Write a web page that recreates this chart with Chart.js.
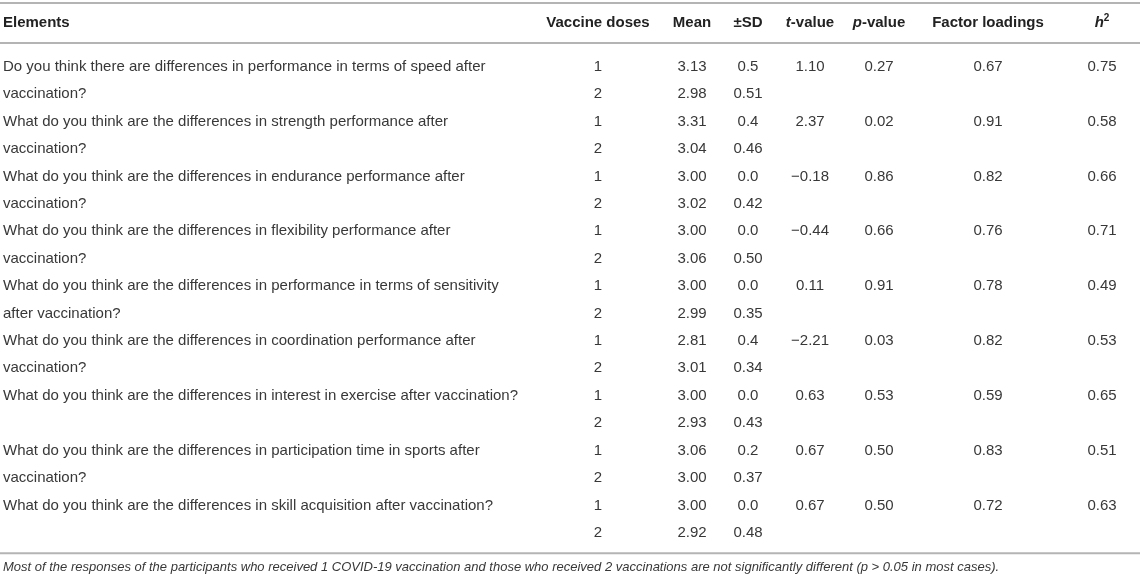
<!DOCTYPE html>
<html>
<head>
<meta charset="utf-8">
<script src="https://cdn.jsdelivr.net/npm/chart.js@4.4.1/dist/chart.umd.min.js"></script>
<style>
  html, body { margin: 0; padding: 0; background: #fff; }
  #wrap { width: 1143px; height: 579px; }
</style>
</head>
<body>
<div id="wrap"><canvas id="myChart"></canvas></div>
<script>
// table content
const questions = [
  "Do you think there are differences in performance in terms of speed after\nvaccination?",
  "What do you think are the differences in strength performance after\nvaccination?",
  "What do you think are the differences in endurance performance after\nvaccination?",
  "What do you think are the differences in flexibility performance after\nvaccination?",
  "What do you think are the differences in performance in terms of sensitivity\nafter vaccination?",
  "What do you think are the differences in coordination performance after\nvaccination?",
  "What do you think are the differences in interest in exercise after vaccination?",
  "What do you think are the differences in participation time in sports after\nvaccination?",
  "What do you think are the differences in skill acquisition after vaccination?"
];
const doseLabels = ["1", "2"];
const mean1 = [3.13, 3.31, 3.00, 3.00, 3.00, 2.81, 3.00, 3.06, 3.00];
const mean2 = [2.98, 3.04, 3.02, 3.06, 2.99, 3.01, 2.93, 3.00, 2.92];
const sd1 = [0.5, 0.4, 0.0, 0.0, 0.0, 0.4, 0.0, 0.2, 0.0];
const sd2 = [0.51, 0.46, 0.42, 0.50, 0.35, 0.34, 0.43, 0.37, 0.48];
const tValues = [1.10, 2.37, -0.18, -0.44, 0.11, -2.21, 0.63, 0.67, 0.67];
const pValues = [0.27, 0.02, 0.86, 0.66, 0.91, 0.03, 0.53, 0.50, 0.50];
const loadings = [0.67, 0.91, 0.82, 0.76, 0.78, 0.82, 0.59, 0.83, 0.72];
const h2Values = [0.75, 0.58, 0.66, 0.71, 0.49, 0.53, 0.65, 0.51, 0.63];

// header cells, as runs of [text, style]
const headers = [
  [["Elements"]],
  [["Vaccine doses"]],
  [["Mean"]],
  [["±SD"]],
  [["t", "i"], ["-value"]],
  [["p", "i"], ["-value"]],
  [["Factor loadings"]],
  [["h", "i"], ["2", "sup"]]
];
const footnote = "Most of the responses of the participants who received 1 COVID-19 vaccination and those who received 2 vaccinations are not significantly different (p > 0.05 in most cases).";

// layout (column centres on the x scale, rules in row units)
const colX = [3, 598, 692, 748, 810, 879, 988, 1102];
const nRows = questions.length * 2;
const headerRow = -1.59;
const rules = [-2.32, -0.86, nRows - 0.26];
const footRow = nRows + 0.25;

const FONT = '"Liberation Sans", Arial, Helvetica, sans-serif';
const TEXT = '#383838';

const fmt = (v, d) => (v < 0 ? '\u2212' : '') + Math.abs(v).toFixed(d);

function textSet(label, col, texts, rows, align) {
  return {
    label,
    texts,
    align: align || 'center',
    data: texts.map((t, i) => ({ x: colX[col], y: rows[i] })),
    pointRadius: 0,
    showLine: false
  };
}

// question lines: line j of question i sits on row 2i + j
const qTexts = [], qRows = [];
questions.forEach((q, i) => {
  q.split('\n').forEach((line, j) => { qTexts.push(line); qRows.push(2 * i + j); });
});

const pairRows = [], pairDose = [], pairMean = [], pairSd = [];
questions.forEach((q, i) => {
  pairRows.push(2 * i, 2 * i + 1);
  pairDose.push(doseLabels[0], doseLabels[1]);
  pairMean.push(fmt(mean1[i], 2), fmt(mean2[i], 2));
  pairSd.push(fmt(sd1[i], 1), fmt(sd2[i], 2));
});
const firstRows = questions.map((q, i) => 2 * i);

const datasets = [
  textSet('Elements', 0, qTexts, qRows, 'left'),
  textSet('Vaccine doses', 1, pairDose, pairRows),
  textSet('Mean', 2, pairMean, pairRows),
  textSet('SD', 3, pairSd, pairRows),
  textSet('t-value', 4, tValues.map(v => fmt(v, 2)), firstRows),
  textSet('p-value', 5, pValues.map(v => fmt(v, 2)), firstRows),
  textSet('Factor loadings', 6, loadings.map(v => fmt(v, 2)), firstRows),
  textSet('h2', 7, h2Values.map(v => fmt(v, 2)), firstRows)
];

const tablePlugin = {
  id: 'tableText',
  afterDatasetsDraw(chart) {
    const c = chart.ctx;
    const xs = chart.scales.x, ys = chart.scales.y;
    c.save();

    // rules
    c.strokeStyle = '#b4b4b4';
    c.lineWidth = 2;
    rules.forEach(r => {
      const y = ys.getPixelForValue(r);
      c.beginPath();
      c.moveTo(xs.getPixelForValue(0), y);
      c.lineTo(xs.getPixelForValue(1140), y);
      c.stroke();
    });

    // body cells
    c.textBaseline = 'middle';
    c.fillStyle = TEXT;
    c.font = '15px ' + FONT;
    chart.data.datasets.forEach((ds, di) => {
      const meta = chart.getDatasetMeta(di);
      c.textAlign = ds.align;
      meta.data.forEach((pt, i) => c.fillText(ds.texts[i], pt.x, pt.y));
    });

    // header cells
    const hy = ys.getPixelForValue(headerRow);
    c.fillStyle = '#222';
    c.textAlign = 'left';
    headers.forEach((runs, k) => {
      const fonts = runs.map(r => r[1] === 'i' ? 'italic bold 15px ' + FONT
        : r[1] === 'sup' ? 'bold 10px ' + FONT : 'bold 15px ' + FONT);
      const widths = runs.map((r, j) => { c.font = fonts[j]; return c.measureText(r[0]).width; });
      const total = widths.reduce((a, b) => a + b, 0);
      let x = xs.getPixelForValue(colX[k]);
      if (k > 0) x -= total / 2;
      runs.forEach((r, j) => {
        c.font = fonts[j];
        c.fillText(r[0], x, r[1] === 'sup' ? hy - 5 : hy);
        x += widths[j];
      });
    });

    // footnote
    c.fillStyle = TEXT;
    c.font = 'italic 13px ' + FONT;
    c.fillText(footnote, xs.getPixelForValue(colX[0]), ys.getPixelForValue(footRow));
    c.restore();
  }
};

const ctx = document.getElementById('myChart').getContext('2d');
const myChart = new Chart(ctx, {
  type: 'scatter',
  data: { datasets },
  options: {
    responsive: true,
    maintainAspectRatio: false,
    animation: false,
    layout: { padding: 0 },
    plugins: { legend: { display: false }, tooltip: { enabled: false } },
    scales: {
      x: { type: 'linear', min: 0, max: 1143, display: false },
      y: { type: 'linear', min: -2.43, max: nRows + 0.68, reverse: true, display: false }
    }
  },
  plugins: [tablePlugin]
});
</script>
</body>
</html>
